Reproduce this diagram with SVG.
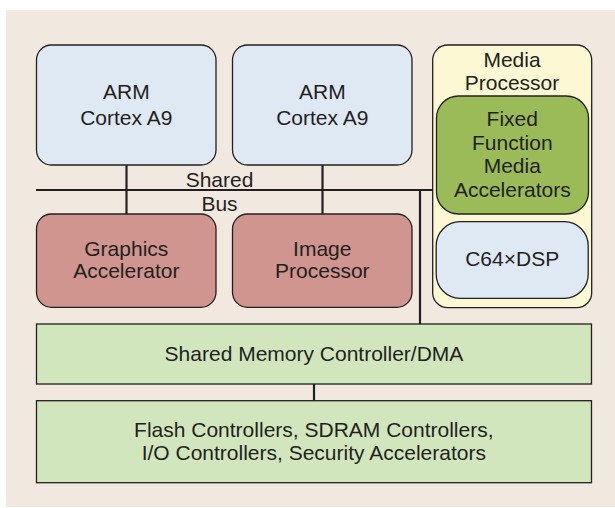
<svg xmlns="http://www.w3.org/2000/svg" width="615" height="508" viewBox="0 0 615 508">
<style>
text{font-family:"Liberation Sans",Arial,sans-serif;font-size:21px;fill:#231f20;text-anchor:middle}
.b{stroke:#231f20;stroke-width:1.3}
.blue{fill:#dfe9f4}
.red{fill:#cf958e}
.lg{fill:#d2e6bd}
.ln{stroke:#231f20;stroke-width:2.2;fill:none}
</style>
<rect x="0" y="0" width="615" height="508" fill="#ffffff"/>
<rect x="6" y="10" width="609" height="497" fill="#f1e9e0"/>
<g id="connectors">
<line class="ln" x1="36" y1="190" x2="433" y2="190"/>
<line class="ln" x1="126.5" y1="165" x2="126.5" y2="214"/>
<line class="ln" x1="322.5" y1="165" x2="322.5" y2="214"/>
<line class="ln" x1="420" y1="190" x2="420" y2="324"/>
<line class="ln" x1="314" y1="384" x2="314" y2="400.5"/>
<text x="219.5" y="186.7">Shared</text>
<text x="219.5" y="210.7">Bus</text>
</g>
<g id="arm1">
<rect class="b blue" x="36.5" y="45" width="179.5" height="120" rx="15"/>
<text x="126.3" y="99">ARM</text>
<text x="126.3" y="125">Cortex A9</text>
</g>
<g id="arm2">
<rect class="b blue" x="232.5" y="45" width="179.5" height="120" rx="15"/>
<text x="322.3" y="99">ARM</text>
<text x="322.3" y="125">Cortex A9</text>
</g>
<g id="media">
<rect class="b" fill="#fbf8d3" x="432.7" y="45" width="159" height="262.7" rx="15"/>
<text x="512" y="66.7">Media</text>
<text x="512" y="90">Processor</text>
</g>
<g id="fixed">
<rect class="b" fill="#9bbb59" x="436.5" y="96" width="152" height="118" rx="22"/>
<text x="512.3" y="126">Fixed</text>
<text x="512.3" y="150">Function</text>
<text x="512.3" y="172.7">Media</text>
<text x="512.3" y="196.7">Accelerators</text>
</g>
<g id="dsp">
<rect class="b blue" x="436.2" y="221.7" width="152" height="76.6" rx="24"/>
<text x="512.2" y="266">C64×DSP</text>
</g>
<g id="graphics">
<rect class="b red" x="36.5" y="214" width="179.5" height="93.3" rx="15"/>
<text x="126.3" y="255.7">Graphics</text>
<text x="126.3" y="278.3">Accelerator</text>
</g>
<g id="image">
<rect class="b red" x="232.5" y="214" width="179.5" height="93.3" rx="15"/>
<text x="322.3" y="255.7">Image</text>
<text x="322.3" y="278.3">Processor</text>
</g>
<g id="memctrl">
<rect class="b lg" x="36.5" y="324" width="555" height="60"/>
<text x="314" y="361">Shared Memory Controller/DMA</text>
</g>
<g id="flash">
<rect class="b lg" x="36.5" y="400.7" width="555" height="82"/>
<text x="313.8" y="436.7">Flash Controllers, SDRAM Controllers,</text>
<text x="313.8" y="459.5">I/O Controllers, Security Accelerators</text>
</g>
</svg>
